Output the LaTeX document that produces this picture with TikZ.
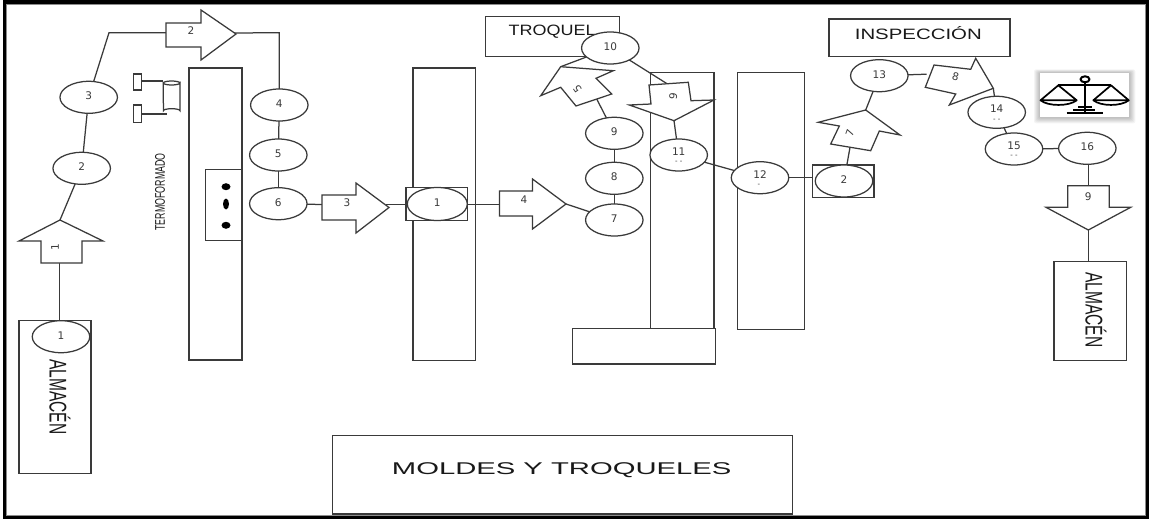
\documentclass[tikz,border=0pt]{standalone}
\usepackage{fontspec}
\setmainfont{Liberation Sans}
\newfontfamily\numfont{DejaVu Sans}
\usetikzlibrary{shapes.geometric}
\definecolor{ink}{HTML}{3A3A3A}
\newcommand{\capt}[4]{\fontsize{#1}{#1}\selectfont\scalebox{#2}[#3]{#4}}
\newcommand{\up}[1]{\raisebox{2.6pt}{#1}}
\pgfdeclarelayer{blocklayer}
\pgfdeclarelayer{connlayer}
\pgfsetlayers{blocklayer,connlayer,main}
\tikzset{
  ln/.style={draw=ink,line width=1.25pt},
  stn/.style={ln,fill=white,ellipse,inner sep=0pt,outer sep=0pt,minimum width=57.5pt,minimum height=32pt,font=\fontsize{10.5}{12}\selectfont\numfont,text=ink},
  arrowbody/.style={ln,fill=white,line join=miter},
  blockb/.style={ln,fill=white,rectangle,inner sep=0pt,outer sep=0pt},
  num/.style={inner sep=0pt,font=\fontsize{10.5}{12}\selectfont\numfont,text=ink},
  tick/.style={inner sep=0pt,font=\fontsize{7}{7}\selectfont\numfont,text=ink},
  title/.style={inner sep=0pt,text=black!90},
  dot/.style={fill=black,draw=none,ellipse,inner sep=0pt},
}
\begin{document}
\begin{tikzpicture}[x=1pt,y=-1pt]
\useasboundingbox (0,0) rectangle (1150,519);

\begin{pgfonlayer}{blocklayer}
\fill[white] (0,0) rectangle (1150,519);
\fill[black] (2.5,0) rectangle (1148.5,519);
\fill[black!45] (6,4) rectangle (1145.5,516);
\fill[white] (6.5,5.5) rectangle (1144.5,515);

% blocks
\node[blockb,minimum width=72pt,minimum height=152.6pt] (almAbox) at (55,397) {};
\node[blockb,line width=2pt,minimum width=52.7pt,minimum height=291.7pt] (termobox) at (215.35,214.15) {};
\node[blockb,minimum width=36pt,minimum height=71.4pt] (heater) at (223.7,205) {};
\node[blockb,minimum width=62.3pt,minimum height=292.7pt] (moldcol) at (444.15,214.35) {};
\node[blockb,minimum width=63.7pt,minimum height=255.8pt] (diecol) at (682.15,200.6) {};
\node[blockb,minimum width=67pt,minimum height=256.6pt] (inspcol) at (770.8,201) {};
\node[blockb,minimum width=143.4pt,minimum height=35.3pt] (base) at (644,346.3) {};
\node[blockb,minimum width=133.6pt,minimum height=40pt] (troquelbox) at (552.5,36.7) {};
\node[blockb,minimum width=181pt,minimum height=37.7pt] (inspbox) at (919.5,37.85) {};
\node[blockb,minimum width=460pt,minimum height=78.3pt] (moldbox) at (562.3,474.85) {};
\node[blockb,minimum width=72.3pt,minimum height=99pt] (almBbox) at (1090.15,311.2) {};
\node[blockb,minimum width=61.3pt,minimum height=33pt] (sq1) at (436.7,204.2) {};
\node[blockb,minimum width=61.7pt,minimum height=32.7pt] (sq2) at (843.2,181.3) {};

% titles
\node[title,rotate=-90] (almA) at (60,397) {\capt{21}{.74}{1.15}{ALMACÉN}};
\node[title,rotate=-90] (almB) at (1096,310) {\capt{21}{.74}{1.15}{ALMACÉN}};
\node[title,rotate=90] (termo) at (160,192) {\capt{14}{.63}{1}{TERMOFORMADO}};
\node[title,anchor=west] (trq) at (508.3,32) {\capt{15}{1.2}{1}{TROQUEL}};
\node[title] (insp) at (918.3,33.5) {\capt{15}{1.36}{1}{INSPECCIÓN}};
\node[title] (mold) at (561.7,470.5) {\capt{17}{1.72}{1}{MOLDES Y TROQUELES}};
\end{pgfonlayer}

% named anchors of the block arrows
\coordinate (a1tip) at (60,220);   \coordinate (a1tail) at (59.3,263);
\coordinate (a2tip) at (234,33);   \coordinate (a2tail) at (166,32.7);
\coordinate (a3tip) at (386,204.2);  \coordinate (a3tail) at (322,204.5);
\coordinate (a4tip) at (566,204);  \coordinate (a4tail) at (499.5,204.2);
\coordinate (a5tip) at (560.7,66.7); \coordinate (a5tail) at (596.7,99);
\coordinate (a6tip) at (674,120.7); \coordinate (a6tail) at (667,83.7);
\coordinate (a7tip) at (865.7,110); \coordinate (a7tail) at (850,147.3);
\coordinate (a8tip) at (993.3,88.3); \coordinate (a8tail) at (926.7,74.2);
\coordinate (a9tip) at (1088.3,230); \coordinate (a9tail) at (1088.3,185.7);
\coordinate (corA) at (109,32.7);
\coordinate (corB) at (279.3,32.7);

% auxiliary devices
\node[ln,minimum width=8.4pt,minimum height=16pt,inner sep=0pt] (devA) at (137.5,82) {};
\node[ln,minimum width=8.4pt,minimum height=17.3pt,inner sep=0pt] (devB) at (137.5,113.6) {};
\draw[ln,fill=white] (163.3,83) arc[x radius=8.3,y radius=2,start angle=180,end angle=0] -- (180,110.7) arc[x radius=8.3,y radius=2,start angle=0,end angle=-180] -- cycle;
\draw[ln] (163.3,83) arc[x radius=8.3,y radius=2,start angle=-180,end angle=0];
\coordinate (cylA) at (163.3,81);
\coordinate (cylB) at (166.7,114);
\draw[ln] (devA.east |- cylA) -- (cylA);
\draw[ln] (devB.east |- cylB) -- (cylB);
\node[dot,minimum width=9pt,minimum height=7pt] (d1) at (226,186.7) {};
\node[dot,minimum width=6pt,minimum height=11pt] (d2) at (226,204) {};
\node[dot,minimum width=9pt,minimum height=7pt] (d3) at (226,225.3) {};

% stations
\path
 node[stn] (c1a) at (61,336.7) {\up{1}}
 node[stn] (c2) at (81.7,168.3) {\up{2}}
 node[stn] (c3) at (88.7,97.3) {\up{3}}
 node[stn] (c4) at (279.3,105) {\up{4}}
 node[stn] (c5) at (278.3,155) {\up{5}}
 node[stn] (c6) at (278.3,203.7) {\up{6}}
 node[stn,minimum width=60pt,minimum height=33pt] (c1b) at (437.3,204) {\up{1}}
 node[stn] (c7) at (614.3,220) {\up{7}}
 node[stn] (c8) at (614.3,178.3) {\up{8}}
 node[stn] (c9) at (614.3,133.3) {\up{9}}
 node[stn] (c10) at (610.3,48) {\up{10}}
 node[stn] (c11) at (678.7,155) {}
 node[stn] (c12) at (760,177.7) {}
 node[stn] (c2b) at (844,181) {\up{2}}
 node[stn] (c13) at (879.3,75.7) {\up{13}}
 node[stn] (c14) at (996.7,112.3) {}
 node[stn] (c15) at (1014,149) {}
 node[stn] (c16) at (1087.3,148.3) {\up{16}};
\node[num] (n11) at (678.7,151.5) {11};
\node[num] (n12) at (760,174.5) {12};
\node[num] (n14) at (996.7,109) {14};
\node[num] (n15) at (1014,145.5) {15};
\node[tick] (t11) at (678.7,162.5) {- -};
\node[tick] (t12) at (759,185) {-};
\node[tick] (t14) at (996.7,120) {- -};
\node[tick] (t15) at (1014,156.5) {- -};

% connectors
\begin{pgfonlayer}{connlayer}
\draw[ln] (a1tail) -- (a1tail |- almAbox.north);
\draw[ln] (a1tip) -- (c2);
\draw[ln] (c2) -- (c3);
\draw[ln] (c3) -- (corA) -- (a2tail);
\draw[ln] (a2tip) -- (corB) -- (c4);
\draw[ln] (c4) -- (c5);
\draw[ln] (c5) -- (c6);
\draw[ln] (c6) -- (a3tail);
\draw[ln] (a3tip) -- (sq1);
\draw[ln] (sq1) -- (a4tail);
\draw[ln] (a4tip) -- (c7);
\draw[ln] (c7) -- (c8);
\draw[ln] (c8) -- (c9);
\draw[ln] (c9) -- (a5tail);
\draw[ln] (c10) -- (a5tip);
\draw[ln] (c10) -- (a6tail);
\draw[ln] (a6tip) -- (c11);
\draw[ln] (c11) -- (c12);
\draw[ln] (c12) -- (c12 -| sq2.west);
\draw[ln] (c2b) -- (a7tail);
\draw[ln] (a7tip) -- (c13);
\draw[ln] (c13) -- (a8tail);
\draw[ln] (a8tip) -- (c14);
\draw[ln] (c14) -- (c15);
\draw[ln] (c15) -- (c16);
\draw[ln] (a9tail |- c16) -- (a9tail);
\draw[ln] (a9tip) -- (a9tip |- almBbox.north);
\end{pgfonlayer}

% block arrows
\draw[arrowbody] (60,220) -- (103,241) -- (82,241) -- (82,263) -- (41,263) -- (41,241) -- (19,241) -- cycle;
\node[num,rotate=90] (l1) at (55,247) {1};
\draw[arrowbody] (236,34) -- (201,60) -- (201,47) -- (166,47) -- (166,23) -- (201,23) -- (201,10) -- cycle;
\node[num] (l2) at (191,31) {2};
\draw[arrowbody] (389,207.5) -- (356,233) -- (356,220) -- (322,220) -- (322,195) -- (356,195) -- (356,183) -- cycle;
\node[num] (l3) at (347,203) {3};
\draw[arrowbody] (566,204) -- (532.5,229) -- (532.5,216) -- (499.5,216) -- (499.5,191) -- (532.5,191) -- (532.5,179) -- cycle;
\node[num] (l4) at (524,200) {4};
\draw[arrowbody] (560.7,66.7) -- (613.3,70.7) -- (596,78.3) -- (611.7,94) -- (576,106) -- (560.7,87.3) -- (540.7,95.7) -- cycle;
\node[num,rotate=125] (l5) at (577.3,89.3) {5};
\draw[arrowbody] (674,120.7) -- (629.3,105) -- (651,104) -- (649,85) -- (688.3,82.3) -- (691,100.7) -- (714,100) -- cycle;
\node[num,rotate=-97] (l6) at (673.3,96.7) {6};
\draw[arrowbody] (865.7,110) -- (900,135) -- (879.3,131) -- (870.7,150.7) -- (830.7,144) -- (839.3,126) -- (818.3,122.3) -- cycle;
\node[num,rotate=70] (l7) at (850,132.7) {7};
\draw[arrowbody] (993.3,88.3) -- (949.3,105) -- (955.7,94) -- (925.3,87.3) -- (934,65) -- (970.7,69.3) -- (975.7,58.3) -- cycle;
\node[num,rotate=-15] (l8) at (955.5,76.7) {8};
\draw[arrowbody] (1088.3,230) -- (1046,207.3) -- (1067.7,207.3) -- (1067.7,185.7) -- (1109.3,185.7) -- (1109.3,207.3) -- (1130.7,207.3) -- cycle;
\node[num] (l9) at (1088.3,196.7) {9};

% balance icon
\foreach \r in {6,5,4,3,2,1}{
  \fill[black,opacity=.045,rounded corners=2pt] (1040-\r,73-\r*0.6) rectangle (1129.3+\r,117.3+\r);
}
\node[minimum width=89.3pt,minimum height=44.3pt,inner sep=0pt,fill=white] (icon) at (1084.65,95.15) {};
\begin{scope}[line width=1.7pt,black,line join=round]
\draw (1085,82) -- (1085,112);
\draw[line width=2pt] (1085,79.3) ellipse[x radius=4.5,y radius=3];
\draw (1058.3,85.3) -- (1111,85.3);
\draw (1058.3,85.3) -- (1040.5,100.3) -- (1076.7,100.3) -- cycle;
\draw (1040.5,100.3) .. controls (1048,106.5) and (1069,106.5) .. (1076.7,100.3);
\draw (1111,85.3) -- (1093.3,100.3) -- (1128.8,100.3) -- cycle;
\draw (1093.3,100.3) .. controls (1101,106.5) and (1121,106.5) .. (1128.8,100.3);
\draw (1078,107) -- (1092,107);
\draw (1073,109.8) -- (1095,109.8);
\draw (1066.7,113) -- (1103,113);
\end{scope}
\end{tikzpicture}
\end{document}
